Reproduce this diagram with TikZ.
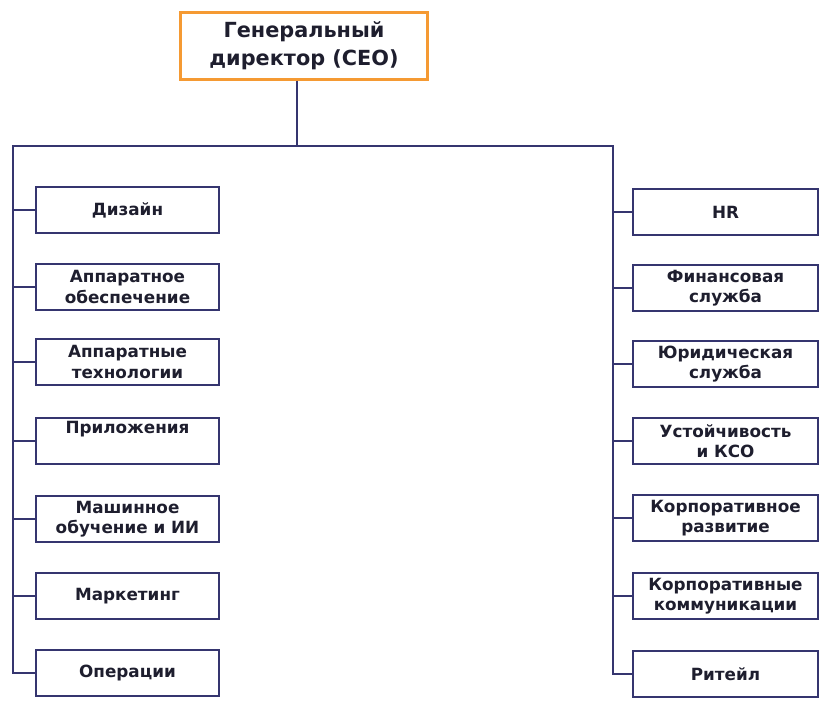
\documentclass[tikz,border=0pt]{standalone}
\usepackage{fontspec}
\setmainfont{DejaVu Sans}
\definecolor{navy}{HTML}{35356F}
\definecolor{ceoorange}{HTML}{F59A33}
\definecolor{txt}{HTML}{1E1E2E}
\begin{document}
\begin{tikzpicture}[x=1pt,y=-1pt,
  unit/.style={draw=navy,line width=2pt,minimum width=183pt,minimum height=46pt,
    align=center,inner sep=0pt,text=txt,font=\fontsize{16.8}{20.5}\selectfont\bfseries},
  ceobox/.style={draw=ceoorange,line width=2.2pt,minimum width=247pt,minimum height=67pt,
    align=center,inner sep=0pt,text=txt,font=\fontsize{20.8}{28}\selectfont\bfseries},
  wire/.style={draw=navy,line width=2pt}]
\useasboundingbox (0,0) rectangle (837,717);
\fill[white] (0,0) rectangle (837,717);
\node[ceobox] (ceo) at (304,46) {Генеральный\\директор (CEO)};
\coordinate (busC) at (297,146);
\coordinate (busL) at (13,146);
\coordinate (busR) at (613,146);
% left column
\node[unit] (d1) at (127.5,210) {Дизайн};
\node[unit] (d2) at (127.5,287) {Аппаратное\\обеспечение};
\node[unit] (d3) at (127.5,362) {Аппаратные\\технологии};
\node[unit] (d4) at (127.5,441) {Приложения\\\strut};
\node[unit] (d5) at (127.5,519) {Машинное\\обучение и ИИ};
\node[unit] (d6) at (127.5,596) {Маркетинг};
\node[unit] (d7) at (127.5,673) {Операции};
% right column
\node[unit,minimum width=185pt] (r1) at (725.5,212) {HR};
\node[unit,minimum width=185pt] (r2) at (725.5,288) {Финансовая\\служба};
\node[unit,minimum width=185pt] (r3) at (725.5,364) {Юридическая\\служба};
\node[unit,minimum width=185pt] (r4) at (725.5,441) {Устойчивость\\и КСО};
\node[unit,minimum width=185pt] (r5) at (725.5,518) {Корпоративное\\развитие};
\node[unit,minimum width=185pt] (r6) at (725.5,596) {Корпоративные\\коммуникации};
\node[unit,minimum width=185pt] (r7) at (725.5,674) {Ритейл};
% connectors
\draw[wire] (ceo.south -| busC) -- (busC);
\draw[wire] (d7.west) -- (busL |- d7.west) -- (busL) -- (busR) -- (busR |- r7.west) -- (r7.west);
\foreach \n in {d1,d2,d3,d4,d5,d6} \draw[wire] (busL |- \n.west) -- (\n.west);
\foreach \n in {r1,r2,r3,r4,r5,r6} \draw[wire] (busR |- \n.west) -- (\n.west);
\end{tikzpicture}
\end{document}
